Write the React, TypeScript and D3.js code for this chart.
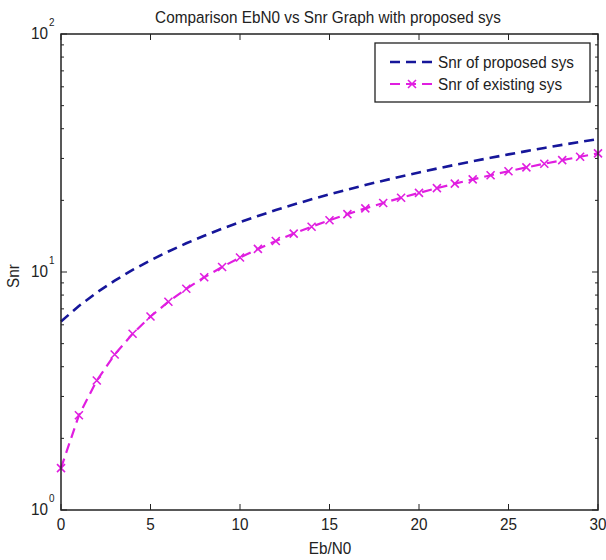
import * as d3 from "d3";

const ebn0 = [0, 1, 2, 3, 4, 5, 6, 7, 8, 9, 10, 11, 12, 13, 14, 15, 16, 17, 18, 19, 20, 21, 22, 23, 24, 25, 26, 27, 28, 29, 30];
const snrProposed = [6.2, 7.2, 8.2, 9.2, 10.2, 11.2, 12.2, 13.2, 14.2, 15.2, 16.2, 17.2, 18.2, 19.2, 20.2, 21.2, 22.2, 23.2, 24.2, 25.2, 26.2, 27.2, 28.2, 29.2, 30.2, 31.2, 32.2, 33.2, 34.2, 35.2, 36.2];
const snrExisting = [1.5, 2.5, 3.5, 4.5, 5.5, 6.5, 7.5, 8.5, 9.5, 10.5, 11.5, 12.5, 13.5, 14.5, 15.5, 16.5, 17.5, 18.5, 19.5, 20.5, 21.5, 22.5, 23.5, 24.5, 25.5, 26.5, 27.5, 28.5, 29.5, 30.5, 31.5];
const xTicks = [0, 5, 10, 15, 20, 25, 30];
const yDecades = [0, 1, 2];
const legendLabels = ["Snr of proposed sys", "Snr of existing sys"];

const W = 606;
const H = 560;
const margin = { top: 34, right: 8, bottom: 50, left: 61 };
const FONT = "'Liberation Sans', Arial, sans-serif";
const BLUE = "#16169a";
const MAGENTA = "#e01ee0";
const INK = "#222";
const SX = 0.9;

// narrow text, like the condensed font of the original figure
function T({ x, y, size = 17, anchor = "start", rot = 0, children }: any) {
  return (
    <text
      transform={`translate(${x},${y}) rotate(${rot}) scale(${SX},1)`}
      textAnchor={anchor}
      fontSize={size}
      fill={INK}
    >
      {children}
    </text>
  );
}

export default function App() {
  const x = d3.scaleLinear().domain([0, 30]).range([margin.left, W - margin.right]);
  const y = d3.scaleLog().domain([1, 100]).range([H - margin.bottom, margin.top]);
  const x0 = margin.left;
  const x1 = W - margin.right;
  const y0 = H - margin.bottom;
  const y1 = margin.top;

  const minor: number[] = [];
  for (const d of [1, 10]) for (let k = 2; k <= 9; k++) minor.push(d * k);

  const line = d3
    .line<number>()
    .x((_, i) => x(ebn0[i]))
    .y((d) => y(d));

  const markerPath = (cx: number, cy: number, s = 4) =>
    `M${cx - s},${cy - s}L${cx + s},${cy + s}M${cx - s},${cy + s}L${cx + s},${cy - s}`;

  const lg = { x: 375, y: 43, w: 215, h: 59 };

  return (
    <div style={{ position: "fixed", left: 0, top: 0 }}>
      <svg width={W} height={H} style={{ display: "block", background: "#fff" }} fontFamily={FONT}>
        <rect x={0} y={0} width={W} height={H} fill="#fff" />
        <T x={328} y={23} anchor="middle">
          Comparison EbN0 vs Snr Graph with proposed sys
        </T>

        {/* data lines */}
        <path d={line(snrProposed) || ""} fill="none" stroke={BLUE} strokeWidth={2.6} strokeDasharray="10,6" />
        <path d={line(snrExisting) || ""} fill="none" stroke={MAGENTA} strokeWidth={2.2} strokeDasharray="10,6" />
        {snrExisting.map((v, i) => (
          <path key={i} d={markerPath(x(ebn0[i]), y(v))} stroke={MAGENTA} strokeWidth={1.6} />
        ))}

        {/* axes box */}
        <rect x={x0} y={y1} width={x1 - x0} height={y0 - y1} fill="none" stroke={INK} strokeWidth={1.5} />

        {xTicks.map((t) => (
          <g key={t}>
            <line x1={x(t)} x2={x(t)} y1={y0} y2={y0 - 6} stroke={INK} />
            <line x1={x(t)} x2={x(t)} y1={y1} y2={y1 + 6} stroke={INK} />
            <T x={x(t)} y={y0 + 20} anchor="middle">
              {t}
            </T>
          </g>
        ))}

        {yDecades.map((p) => {
          const yy = y(Math.pow(10, p));
          return (
            <g key={p}>
              <line x1={x0} x2={x0 + 6} y1={yy} y2={yy} stroke={INK} />
              <line x1={x1} x2={x1 - 6} y1={yy} y2={yy} stroke={INK} />
              <T x={48} y={yy + 5} anchor="end">
                10
              </T>
              <T x={49} y={yy - 8} size={11}>
                {p}
              </T>
            </g>
          );
        })}
        {minor.map((v) => (
          <g key={v}>
            <line x1={x0} x2={x0 + 3} y1={y(v)} y2={y(v)} stroke={INK} />
            <line x1={x1} x2={x1 - 3} y1={y(v)} y2={y(v)} stroke={INK} />
          </g>
        ))}

        <T x={330} y={554} anchor="middle">
          Eb/N0
        </T>
        <T x={19} y={276} anchor="middle" rot={-90}>
          Snr
        </T>

        {/* legend */}
        <rect x={lg.x} y={lg.y} width={lg.w} height={lg.h} fill="#fff" stroke={INK} strokeWidth={1.3} />
        {legendLabels.map((lbl, i) => {
          const ly = lg.y + 19 + i * 22;
          const col = i === 0 ? BLUE : MAGENTA;
          return (
            <g key={lbl}>
              <line x1={390} x2={435} y1={ly} y2={ly} stroke={col} strokeWidth={i === 0 ? 2.6 : 2.2} strokeDasharray="10,6" />
              {i === 1 && <path d={markerPath(412, ly)} stroke={col} strokeWidth={1.6} />}
              <T x={438} y={ly + 6}>
                {lbl}
              </T>
            </g>
          );
        })}
      </svg>
    </div>
  );
}
